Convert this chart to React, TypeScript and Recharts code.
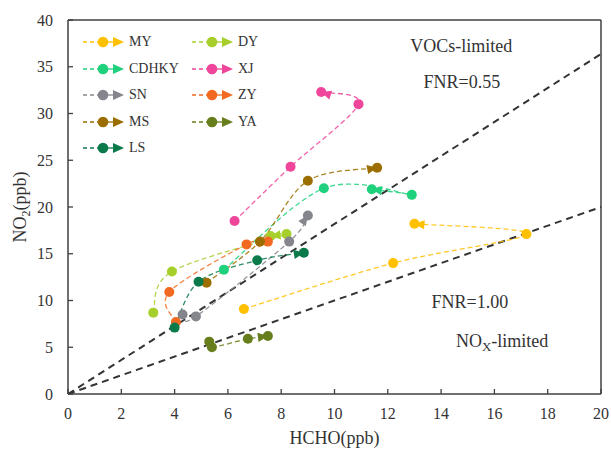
import React from 'react';
import { ComposedChart, Line, XAxis, YAxis, ReferenceLine, ReferenceDot } from 'recharts';

// ---- data (HCHO ppb, NO2 ppb), in trajectory order ----
const MY = [{ x: 6.6, y: 9.1 }, { x: 12.2, y: 14.0 }, { x: 17.2, y: 17.1 }, { x: 13.0, y: 18.2 }];
const DY = [{ x: 3.2, y: 8.7 }, { x: 3.9, y: 13.1 }, { x: 8.2, y: 17.1 }, { x: 7.6, y: 16.9 }];
const CDHKY = [{ x: 5.85, y: 13.3 }, { x: 9.6, y: 22.0 }, { x: 12.9, y: 21.3 }, { x: 11.4, y: 21.9 }];
const XJ = [{ x: 6.25, y: 18.5 }, { x: 8.35, y: 24.3 }, { x: 10.9, y: 31.0 }, { x: 9.5, y: 32.3 }];
const SN = [{ x: 4.3, y: 8.5 }, { x: 4.8, y: 8.3 }, { x: 8.3, y: 16.3 }, { x: 9.0, y: 19.1 }];
const ZY = [{ x: 4.05, y: 7.7 }, { x: 3.8, y: 10.9 }, { x: 6.7, y: 16.0 }, { x: 7.5, y: 16.3 }];
const MS = [{ x: 5.2, y: 11.9 }, { x: 7.2, y: 16.3 }, { x: 9.0, y: 22.8 }, { x: 11.6, y: 24.2 }];
const YA = [{ x: 5.3, y: 5.6 }, { x: 5.4, y: 5.0 }, { x: 6.75, y: 5.9 }, { x: 7.5, y: 6.2 }];
const LS = [{ x: 4.0, y: 7.1 }, { x: 4.9, y: 12.0 }, { x: 7.1, y: 14.3 }, { x: 8.85, y: 15.1 }];

const seriesNames = ['MY', 'DY', 'CDHKY', 'XJ', 'SN', 'ZY', 'MS', 'YA', 'LS'];
const seriesData = [MY, DY, CDHKY, XJ, SN, ZY, MS, YA, LS];
const seriesColors = ['#FFC000', '#A6CF2B', '#1FD07C', '#EF459A', '#85858E', '#F26A21', '#9C6E00', '#667E1B', '#0B7A4A'];

const xTicks = [0, 2, 4, 6, 8, 10, 12, 14, 16, 18, 20];
const yTicks = [0, 5, 10, 15, 20, 25, 30, 35, 40];
const FNR_LOW = 0.55;
const FNR_HIGH = 1.0;
const X_MAX = 20;

const FONT = '"Liberation Serif", "Times New Roman", serif';
const AXIS = '#404040';

// Excel-like smoothed line (Catmull-Rom as cubic Bezier), as a d3-style curve factory
const smoothCurve: any = (context: any) => {
  let pts: number[][] = [];
  return {
    areaStart() {},
    areaEnd() {},
    lineStart() {
      pts = [];
    },
    point(x: number, y: number) {
      pts.push([+x, +y]);
    },
    lineEnd() {
      const n = pts.length;
      if (!n) return;
      context.moveTo(pts[0][0], pts[0][1]);
      for (let i = 0; i < n - 1; i++) {
        const p0 = pts[i - 1] || pts[i];
        const p1 = pts[i];
        const p2 = pts[i + 1];
        const p3 = pts[i + 2] || pts[i + 1];
        context.bezierCurveTo(
          p1[0] + (p2[0] - p0[0]) / 6,
          p1[1] + (p2[1] - p0[1]) / 6,
          p2[0] - (p3[0] - p1[0]) / 6,
          p2[1] - (p3[1] - p1[1]) / 6,
          p2[0],
          p2[1]
        );
      }
    },
  };
};

const makeDot = (color: string, n: number) => (props: any) => {
  const { cx, cy, index, points } = props;
  const key = `dot-${index}`;
  if (cx == null || cy == null) return <g key={key} />;
  const circle = <circle cx={cx} cy={cy} r={5} fill={color} />;
  if (index !== n - 1) return <g key={key}>{circle}</g>;
  let dx = 1, dy = 0;
  if (points && points[index - 1]) {
    dx = cx - points[index - 1].x;
    dy = cy - points[index - 1].y;
  }
  const ang = (Math.atan2(dy, dx) * 180) / Math.PI;
  return (
    <g key={key}>
      {circle}
      <polygon points="0,0 -10,-4.6 -10,4.6" fill={color} transform={`translate(${cx},${cy}) rotate(${ang})`} />
    </g>
  );
};

const XTick = (props: any) => {
  const { x, y, payload } = props;
  return (
    <g>
      <line x1={x} x2={x} y1={y} y2={y - 5} stroke={AXIS} strokeWidth={1.3} />
      <text x={x} y={y + 25} textAnchor="middle" fontFamily={FONT} fontSize={16} fill="#333">{payload.value}</text>
    </g>
  );
};

const YTick = (props: any) => {
  const { x, y, payload } = props;
  const ax = x + 15;
  return (
    <g>
      <line x1={ax} x2={ax + 5} y1={y} y2={y} stroke={AXIS} strokeWidth={1.3} />
      <text x={x} y={y} dy="0.35em" textAnchor="end" fontFamily={FONT} fontSize={16} fill="#333">{payload.value}</text>
    </g>
  );
};

const XTitle = (p: any) => {
  const vb = p.viewBox || {};
  return (
    <text x={vb.x + vb.width / 2} y={vb.y + 50} textAnchor="middle" fontFamily={FONT} fontSize={18} fill="#333">HCHO(ppb)</text>
  );
};

const YTitle = (p: any) => {
  const vb = p.viewBox || {};
  return (
    <text transform={`translate(${vb.x + 26},${vb.y + vb.height / 2}) rotate(-90)`} textAnchor="middle" fontFamily={FONT} fontSize={18} fill="#333">
      NO<tspan dy={4} fontSize={12}>2</tspan><tspan dy={-4}>(ppb)</tspan>
    </text>
  );
};

const annot = (content: React.ReactNode) => (p: any) => {
  const vb = p.viewBox || {};
  return (
    <text x={vb.x + (vb.width || 0) / 2} y={vb.y + (vb.height || 0) / 2} textAnchor="middle" fontFamily={FONT} fontSize={18} fill="#333">{content}</text>
  );
};

const LegendIcon = ({ color }: { color: string }) => (
  <svg width={44} height={14} style={{ display: 'block', flex: 'none' }}>
    <line x1={0} x2={16} y1={7} y2={7} stroke={color} strokeWidth={1.3} strokeDasharray="4 3" />
    <line x1={20} x2={32} y1={7} y2={7} stroke={color} strokeWidth={1.3} />
    <circle cx={20} cy={7} r={5.3} fill={color} />
    <polygon points="30,2 41,7 30,12" fill={color} />
  </svg>
);

export default function App() {
  return (
    <div style={{ position: 'absolute', left: 0, top: 0, width: 611, height: 450, background: '#fff', fontFamily: FONT }}>
      <ComposedChart width={611} height={450} margin={{ top: 20, right: 10, left: 0, bottom: 0 }}>
        <XAxis
          type="number"
          dataKey="x"
          domain={[0, X_MAX]}
          ticks={xTicks}
          allowDataOverflow
          height={56}
          axisLine={{ stroke: AXIS, strokeWidth: 1.5 }}
          tickLine={false}
          tickSize={0}
          tickMargin={0}
          tick={<XTick />}
          interval={0}
          label={{ content: XTitle }}
        />
        <YAxis
          type="number"
          domain={[0, 40]}
          ticks={yTicks}
          allowDataOverflow
          width={68}
          axisLine={{ stroke: AXIS, strokeWidth: 1.5 }}
          tickLine={false}
          tickSize={0}
          tickMargin={15}
          tick={<YTick />}
          interval={0}
          label={{ content: YTitle }}
        />
        <ReferenceLine y={40} stroke={AXIS} strokeWidth={1.5} />
        <ReferenceLine x={X_MAX} stroke={AXIS} strokeWidth={1.5} />
        <ReferenceLine
          segment={[{ x: 0, y: 0 }, { x: X_MAX, y: X_MAX / FNR_LOW }]}
          stroke="#333"
          strokeWidth={2}
          strokeDasharray="7 5"
        />
        <ReferenceLine
          segment={[{ x: 0, y: 0 }, { x: X_MAX, y: X_MAX / FNR_HIGH }]}
          stroke="#333"
          strokeWidth={2}
          strokeDasharray="7 5"
        />
        <ReferenceDot x={14.76} y={36.6} r={0} fill="none" stroke="none" label={{ content: annot('VOCs-limited') }} />
        <ReferenceDot x={14.78} y={32.75} r={0} fill="none" stroke="none" label={{ content: annot('FNR=0.55') }} />
        <ReferenceDot x={15.08} y={9.2} r={0} fill="none" stroke="none" label={{ content: annot('FNR=1.00') }} />
        <ReferenceDot
          x={16.29}
          y={5.0}
          r={0}
          fill="none"
          stroke="none"
          label={{ content: annot(<>NO<tspan dy={4} fontSize={13}>X</tspan><tspan dy={-4}>-limited</tspan></>) }}
        />
        {seriesData.map((d, i) => (
          <Line
            key={seriesNames[i]}
            name={seriesNames[i]}
            data={d}
            dataKey="y"
            type={smoothCurve}
            stroke={seriesColors[i]}
            strokeOpacity={0.85}
            strokeWidth={1.3}
            strokeDasharray="5 3"
            dot={makeDot(seriesColors[i], d.length)}
            activeDot={false}
            isAnimationActive={false}
          />
        ))}
      </ComposedChart>
      <div
        style={{
          position: 'absolute',
          left: 83,
          top: 29,
          width: 220,
          display: 'grid',
          gridTemplateColumns: '109px 109px',
          gridAutoRows: '26.5px',
          fontSize: 14,
          color: '#333',
          fontFamily: FONT,
        }}
      >
        {seriesNames.map((n, i) => (
          <div key={n} style={{ display: 'flex', alignItems: 'center' }}>
            <LegendIcon color={seriesColors[i]} />
            <span style={{ marginLeft: 2, lineHeight: '14px' }}>{n}</span>
          </div>
        ))}
      </div>
    </div>
  );
}
